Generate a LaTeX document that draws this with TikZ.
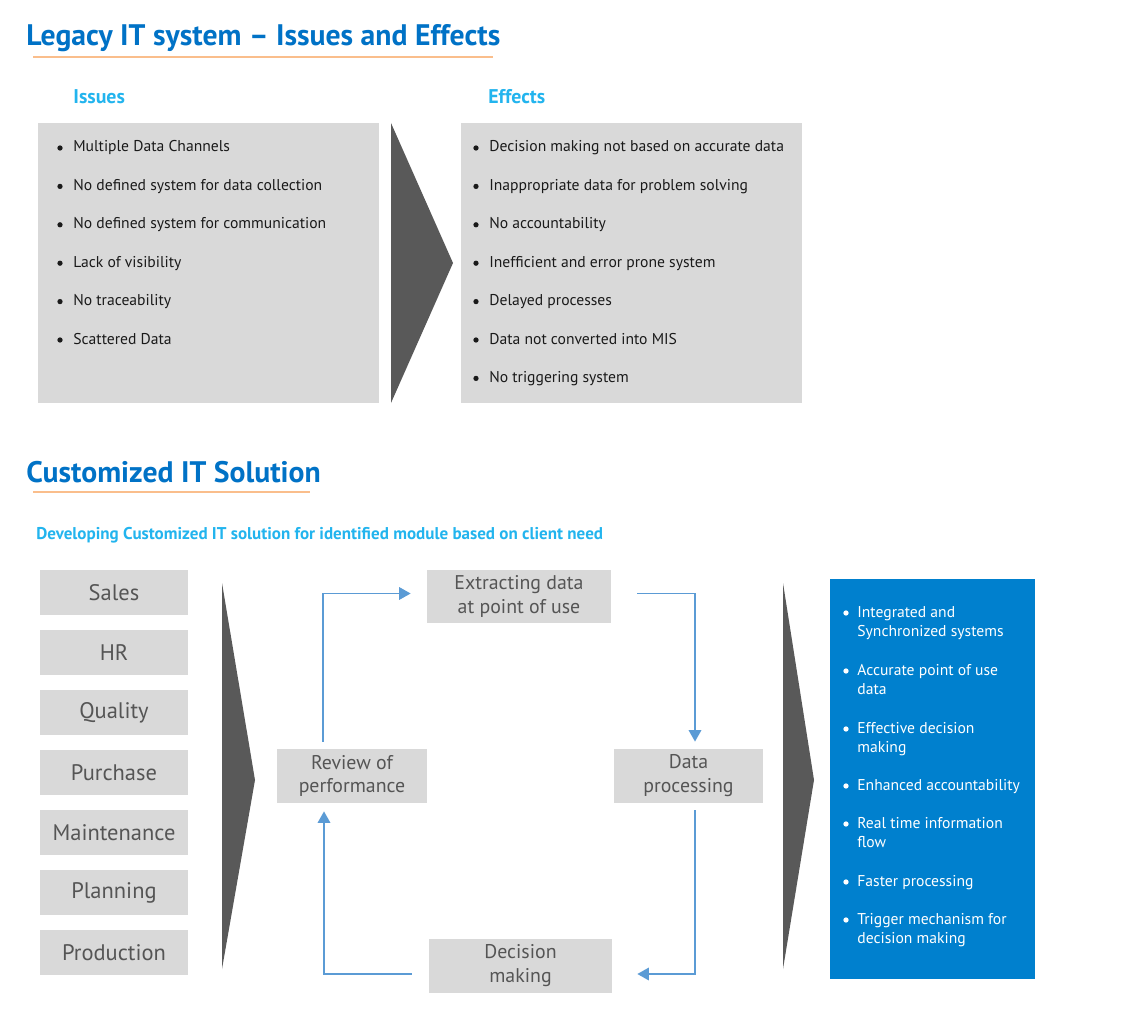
\documentclass[tikz,border=0pt]{standalone}
\usepackage{fontspec}
\setmainfont{PT Sans}
\usepackage{tikz}
\usetikzlibrary{arrows.meta,positioning,calc}
\definecolor{titleC}{RGB}{0,114,198}
\definecolor{headC}{RGB}{34,180,238}
\definecolor{ruleC}{RGB}{250,190,140}
\definecolor{boxC}{RGB}{217,217,217}
\definecolor{arrowC}{RGB}{89,89,89}
\definecolor{textC}{RGB}{85,85,85}
\definecolor{itemC}{RGB}{26,26,26}
\definecolor{flowC}{RGB}{91,155,213}
\definecolor{solC}{RGB}{0,128,206}
\newcommand{\maintitlefont}{\fontsize{16.9}{19}\selectfont\bfseries}
\newcommand{\headfont}{\fontsize{11.3}{13}\selectfont\bfseries}
\newcommand{\subfont}{\fontsize{9.7}{12}\selectfont\bfseries}
\newcommand{\itemfont}{\fontsize{8.9}{10.8}\selectfont}
\newcommand{\boxfont}{\fontsize{11.3}{13.6}\selectfont}
\newcommand{\modfont}{\fontsize{12.8}{14}\selectfont}

\begin{document}
\begin{tikzpicture}[x=0.02cm,y=-0.02cm,
  maintitle/.style={anchor=base west,inner sep=0pt,font=\maintitlefont,text=titleC},
  headtxt/.style={anchor=base west,inner sep=0pt,font=\headfont,text=headC},
  itemtxt/.style={anchor=base west,inner sep=0pt,font=\itemfont,text=itemC},
  soltxt/.style={itemtxt,text=white,align=left},
  panel/.style={fill=boxC,inner sep=0pt,minimum width=6.82cm,minimum height=5.6cm},
  modbox/.style={fill=boxC,inner sep=0pt,minimum width=2.96cm,minimum height=0.9cm,
                 font=\modfont,text=textC},
  stepbox/.style={fill=boxC,inner sep=0pt,minimum height=1.08cm,align=center,
                  font=\boxfont,text=textC},
  flow/.style={draw=flowC,line width=1.1pt,-{Triangle[length=6.5pt,width=7pt]}}]

  % Canvas
  \fill[white] (0,0) rectangle (1137,1034);
  \useasboundingbox (0,0) rectangle (1137,1034);

  % Legacy system: title
  \node[maintitle] (title1) at (26,46) {Legacy IT system – Issues and Effects};
  \draw[ruleC,line width=1.2pt] (33,57) -- (493,57);

  % Issues and effects panels
  \node[headtxt] (isshead) at (73,104) {Issues};
  \node[headtxt] (effhead) at (488,104) {Effects};
  \node[panel] (issues) at (208.5,263) {};
  \node[panel] (effects) at (631.5,263) {};
  \fill[arrowC] (391,123) -- (453,263) -- (391,403) -- cycle;

  \foreach \lab [count=\i from 0] in {Multiple Data Channels,
      No defined system for data collection,No defined system for communication,
      Lack of visibility,No traceability,Scattered Data}{
    \fill[itemC] (60,{148+38.4*\i}) circle (1.5pt);
    \node[itemtxt] (iss\i) at (73,{152+38.4*\i}) {\lab};
  }
  \foreach \lab [count=\i from 0] in {Decision making not based on accurate data,
      Inappropriate data for problem solving,No accountability,
      Inefficient and error prone system,Delayed processes,
      Data not converted into MIS,No triggering system}{
    \fill[itemC] (476,{148+38.4*\i}) circle (1.5pt);
    \node[itemtxt] (eff\i) at (489,{152+38.4*\i}) {\lab};
  }

  % Customized solution: title
  \node[maintitle] (title2) at (26,482) {Customized IT Solution};
  \draw[ruleC,line width=1.2pt] (33,492) -- (310,492);
  \node[anchor=base west,inner sep=0pt,font=\subfont,text=headC] (subtitle) at (36,539)
    {Developing Customized IT solution for identified module based on client need};

  % Modules
  \foreach \lab [count=\i from 0] in {Sales,HR,Quality,Purchase,Maintenance,Planning,Production}
    \node[modbox] (mod\i) at (114,{592.5+60*\i}) {\lab};
  \fill[arrowC] (222,583) -- (255,780) -- (222,969) -- cycle;

  % Cycle
  \node[stepbox,minimum width=3.68cm] (extract) at (519,596.5) {Extracting data\\at point of use};
  \node[stepbox,minimum width=3.0cm] (review) at (352,776) {Review of\\performance};
  \node[stepbox,minimum width=2.98cm] (dataproc) at (688.5,776) {Data\\processing};
  \node[stepbox,minimum width=3.66cm] (decision) at (520.5,966) {Decision\\making};

  \draw[flow] ($(review.north)+(-29,-7)$) |- ($(extract.west)+(-16,-3)$);
  \draw[flow] ($(extract.east)+(26,-3)$) -| ($(dataproc.north)+(6.5,-7)$);
  \draw[flow] ($(dataproc.south)+(6.5,7)$) |- ($(decision.east)+(25,8)$);
  \draw[flow] ($(decision.west)+(-17,8)$) -| ($(review.south)+(-28,8)$);

  \fill[arrowC] (783,583) -- (814,780) -- (783,969) -- cycle;

  % Benefits (y = first baseline, n = lines)
  \node[fill=solC,inner sep=0pt,minimum width=4.1cm,minimum height=8cm] (sol) at (932.5,779) {};
  \foreach \y/\n/\lab [count=\i from 0] in {617/2/{Integrated and\\Synchronized systems},
      675/2/{Accurate point of use\\data},733/2/{Effective decision\\making},
      790/1/{Enhanced accountability},828/2/{Real time information\\flow},
      886/1/{Faster processing},924/2/{Trigger mechanism for\\decision making}}{
    \fill[white] (846,{\y-4}) circle (1.5pt);
    \node[soltxt] (sol\i) at (857,{\y+19*(\n-1)}) {\lab};
  }
\end{tikzpicture}
\end{document}
